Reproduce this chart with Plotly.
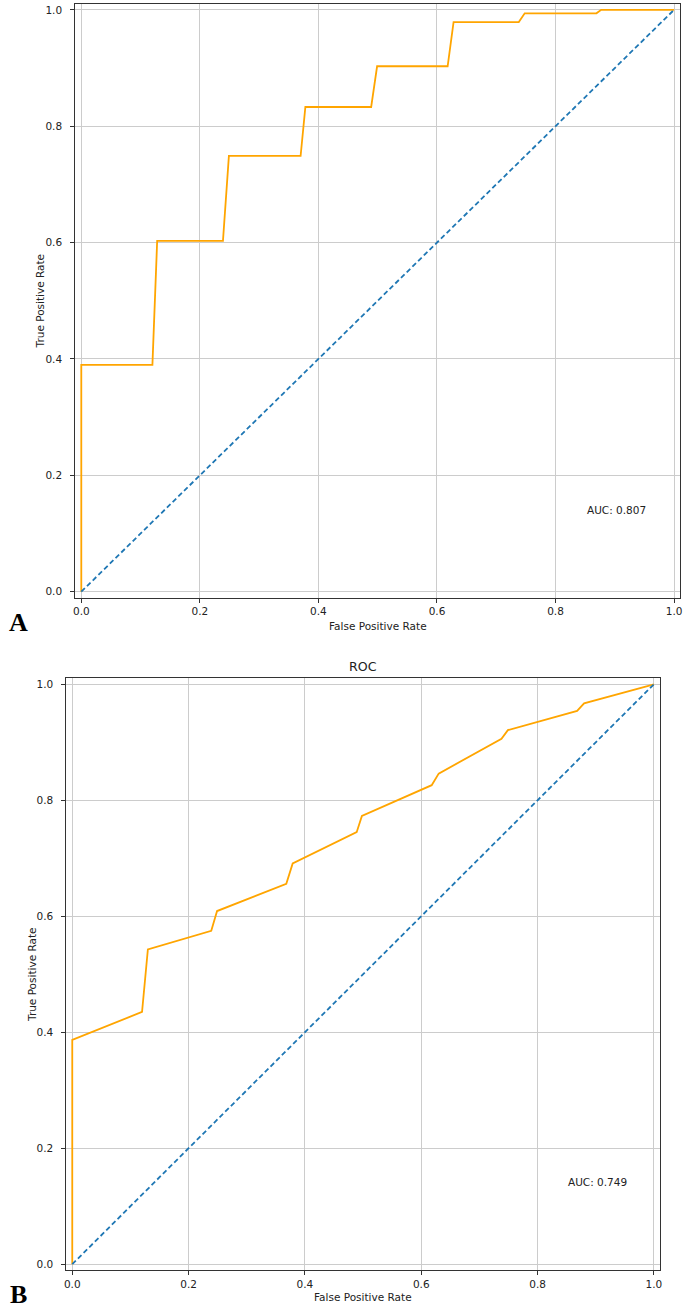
import plotly.graph_objects as go

# ---- data ----
fpr_a = [0, 0, 0.12, 0.128, 0.239, 0.249, 0.37, 0.378, 0.489, 0.499, 0.618, 0.628, 0.738, 0.748, 0.869, 0.877, 1.0]
tpr_a = [0, 0.39, 0.39, 0.603, 0.603, 0.749, 0.749, 0.833, 0.833, 0.903, 0.903, 0.979, 0.979, 0.994, 0.994, 1.0, 1.0]

fpr_b = [0, 0, 0.12, 0.13, 0.239, 0.249, 0.368, 0.379, 0.489, 0.498, 0.618, 0.63, 0.738, 0.749, 0.868, 0.88, 1.0]
tpr_b = [0, 0.387, 0.435, 0.543, 0.575, 0.609, 0.656, 0.691, 0.745, 0.773, 0.826, 0.846, 0.906, 0.921, 0.954, 0.967, 1.0]

diag = [0, 1]
auc_a = "AUC: 0.807"
auc_b = "AUC: 0.749"
tick_vals = [0.0, 0.2, 0.4, 0.6, 0.8, 1.0]
tick_text = ["0.0", "0.2", "0.4", "0.6", "0.8", "1.0"]

W, H = 685, 1310
def px(x):
    return x / W
def py(y):
    return 1 - y / H

FONT = "DejaVu Sans"
TXT = "#222222"
ORANGE = "#FFA500"
BLUE = "#1f77b4"

fig = go.Figure()
# Panel A
fig.add_trace(go.Scatter(x=fpr_a, y=tpr_a, mode="lines", line=dict(color=ORANGE, width=1.8),
                         xaxis="x", yaxis="y", showlegend=False, hoverinfo="skip"))
fig.add_trace(go.Scatter(x=diag, y=diag, mode="lines", line=dict(color=BLUE, width=1.8, dash="5px,3px"),
                         xaxis="x", yaxis="y", showlegend=False, hoverinfo="skip"))
# Panel B
fig.add_trace(go.Scatter(x=fpr_b, y=tpr_b, mode="lines", line=dict(color=ORANGE, width=1.8),
                         xaxis="x2", yaxis="y2", showlegend=False, hoverinfo="skip"))
fig.add_trace(go.Scatter(x=diag, y=diag, mode="lines", line=dict(color=BLUE, width=1.8, dash="5px,3px"),
                         xaxis="x2", yaxis="y2", showlegend=False, hoverinfo="skip"))

def axis_style(domain, anchor, standoff=0):
    d = dict(domain=domain, anchor=anchor, range=[-0.01, 1.01],
             tickvals=tick_vals, ticktext=tick_text,
             showgrid=True, gridcolor="#cccccc", gridwidth=1,
             zeroline=False, showline=True, linecolor="#333333", linewidth=1.3, mirror=True,
             ticks="outside", ticklen=4, tickcolor="#333333", tickwidth=1,
             tickfont=dict(family=FONT, size=10.5, color=TXT))
    if standoff:
        d["ticklabelstandoff"] = standoff
    return d

fig.update_layout(
    xaxis=axis_style([px(73), px(683)], "y"),
    yaxis=axis_style([py(597), py(3)], "x", standoff=6),
    xaxis2=axis_style([px(64), px(662.5)], "y2"),
    yaxis2=axis_style([py(1270), py(678)], "x2", standoff=6),
)

ann = []
def t(x, y, text, size=10.5, angle=0, xanchor="center", bold=False, family=FONT):
    ann.append(dict(x=px(x), y=py(y), xref="paper", yref="paper", text=("<b>%s</b>" % text) if bold else text,
                    showarrow=False, xanchor=xanchor, yanchor="middle", textangle=angle,
                    font=dict(family=family, size=size, color=TXT if not bold else "black")))

t(378, 625, "False Positive Rate")
t(37, 300, "True Positive Rate", angle=-90)
t(363, 1297, "False Positive Rate")
t(30, 974, "True Positive Rate", angle=-90)
t(363, 666, "ROC", size=12.6)
t(16, 622, "A", size=26, bold=True, family="Liberation Serif")
t(16, 1294, "B", size=26, bold=True, family="Liberation Serif")

ann.append(dict(x=0.849, y=0.141, xref="x", yref="y", text=auc_a, showarrow=False, xanchor="left",
                yanchor="middle", font=dict(family=FONT, size=10.5, color=TXT)))
ann.append(dict(x=0.849, y=0.141, xref="x2", yref="y2", text=auc_b, showarrow=False, xanchor="left",
                yanchor="middle", font=dict(family=FONT, size=10.5, color=TXT)))

fig.update_layout(annotations=ann, width=W, height=H, margin=dict(l=0, r=0, t=0, b=0),
                  plot_bgcolor="white", paper_bgcolor="white")

fig.write_html("out.html", config={"displayModeBar": False},
               post_script="document.body.style.margin='0';document.body.style.padding='0';document.body.style.overflow='hidden';")
